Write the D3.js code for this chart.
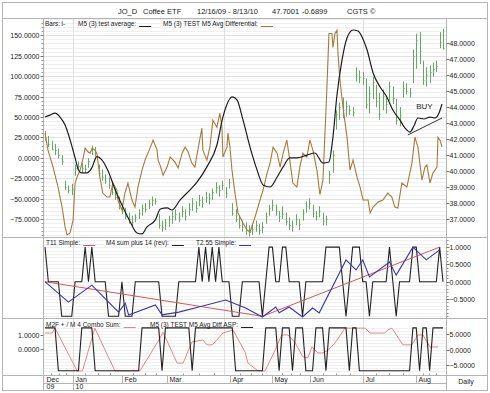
<!DOCTYPE html>
<html>
<head>
<meta charset="utf-8">
<script src="https://cdn.jsdelivr.net/npm/d3@7"></script>
<style>
  body { margin: 0; background: #fff; }
  text { font-family: "Liberation Sans", Arial, sans-serif; fill: #222; }
</style>
</head>
<body>
<svg id="chart" width="490" height="393"></svg>
<script>
// ---- data ----
const months = ['Dec', 'Jan', 'Feb', 'Mar', 'Apr', 'May', 'Jun', 'Jul', 'Aug'];
const monthIdx = [-0.3, 8.4, 23, 36.5, 55.3, 67.9, 79.2, 95.1, 110.9];
const years = [{ label: '09', idx: -0.3 }, { label: '10', idx: 8.4 }];
const quarterIdx = [8.4, 53.5, 95.1];

const leftTicks = [150, 125, 100, 75, 50, 25, 0, -25, -50, -75];
const rightTicks = [48, 47, 46, 45, 44, 43, 42, 41, 40, 39, 38, 37];
const p2Ticks = [1, 0.5, 0, -0.5];
const p3LeftTicks = [1, 0];
const p3RightTicks = [5, 0, -5];

// daily bars (right axis)
const hi = [42.5,42.2,41.9,41.7,41.4,41.0,39.4,39.1,39.2,40.4, 40.6,40.5,40.4,40.8,41.6,41.5,40.4,40.1,39.8,39.6,
  39.3,38.9,38.4,38.0,37.7,37.4,37.2,37.3,37.6,37.9, 38.0,38.2,38.4,38.3,37.3,36.9,37.0,37.2,37.5,37.6,
  37.4,37.8,37.6,38.0,38.3,38.1,38.5,38.4,38.7,38.6, 38.9,39.3,39.1,39.4,39.0,39.5,38.0,37.6,37.2,36.9,
  36.8,36.6,36.7,36.9,36.7,36.8,37.4,37.9,38.2,37.9, 37.5,37.8,37.4,37.1,36.9,37.3,37.0,37.6,38.1,38.3,
  37.9,37.5,37.8,37.4,37.2,40.0,41.3,43.8,44.3,44.6, 44.4,44.1,44.0,46.5,46.3,46.2,45.8,45.3,45.9,45.4,
  44.9,45.1,44.6,45.6,45.3,44.5,44.0,45.6,45.5,45.2, 47.6,48.6,48.7,46.9,46.5,46.6,46.8,46.9,48.7,48.9];
const lo = [41.9,41.5,41.3,41.0,40.8,40.4,38.8,38.6,38.5,39.7, 40.0,39.9,39.9,40.2,41.0,40.9,39.7,39.4,39.2,38.9,
  38.5,38.2,37.6,37.3,37.0,36.7,36.5,36.8,37.0,37.2, 37.4,37.6,37.8,37.9,36.4,36.2,36.3,36.5,36.7,36.9,
  36.8,37.1,36.9,37.2,37.5,37.4,37.8,37.7,38.0,37.9, 38.2,38.6,38.4,38.8,38.3,38.9,37.2,36.8,36.4,36.2,
  36.0,35.9,36.0,36.2,36.0,36.1,36.7,37.2,37.5,37.2, 36.8,37.0,36.6,36.3,36.2,36.6,36.3,36.9,37.4,37.6,
  37.1,36.9,37.1,36.6,36.6,39.2,39.9,42.6,43.2,43.3, 43.4,43.5,43.4,45.6,45.5,45.4,43.9,43.6,44.5,44.0,
  43.2,43.8,43.6,44.4,44.2,42.9,42.8,44.6,44.8,44.6, 45.5,46.4,46.7,45.4,45.3,45.5,45.9,46.2,47.7,47.6];
const cl = [42.1,41.7,41.4,41.3,41.0,40.6,39.0,38.8,38.9,40.2, 40.3,40.2,40.1,40.6,41.4,41.1,39.9,39.6,39.4,39.1,
  38.7,38.4,37.8,37.5,37.2,37.0,36.8,37.1,37.4,37.7, 37.6,38.0,38.2,38.1,36.6,36.5,36.8,37.0,37.2,37.3,
  37.0,37.5,37.2,37.6,38.0,37.7,38.2,38.0,38.4,38.3, 38.7,39.0,38.8,39.1,38.6,39.3,37.4,37.0,36.6,36.5,
  36.3,36.2,36.4,36.6,36.3,36.5,37.2,37.7,37.9,37.5, 37.2,37.3,36.9,36.6,36.5,37.0,36.7,37.4,37.8,38.0,
  37.4,37.2,37.5,36.9,37.0,39.8,41.0,43.6,44.0,43.8, 44.1,43.8,43.7,46.1,45.9,45.8,44.2,44.9,45.6,44.4,
  43.6,44.7,44.2,45.3,44.6,43.2,43.5,45.2,45.0,44.9, 47.2,48.2,47.5,45.7,46.0,46.2,46.4,46.6,48.1,47.7];

// M5 (3) test average (right axis)
const avgIdx = [0,1.5,3,4.5,6,7.5,9,10,11,12.5,14,15.5,17,19,21,23,25.5,27.5,29,30.5,33,34.5,36.5,38,40.4,43.3,45.5,48.4,51.4,53.2,
  56,57.4,59.2,61.3,63.4,65.2,67.3,69.4,71.2,73.2,75.3,78.3,80.7,83.1,84.9,86,87.3,88.8,90.3,92.1,93.6,94.8,96.3,98.1,100.2,102.2,104,106.1,107.6,109.1,
  110.3,111.5,113.3,115.1,116.6,117.8,118.7];
const avgVal = [43.38,43.5,43.63,43.38,42.88,41.95,40.82,40.07,39.88,39.88,40.2,40.9,40.7,39.94,38.81,37.88,36.81,36.12,36.06,36.5,36.94,37.62,37.69,37.56,38.19,38.81,39.32,40.26,41.63,43.38,
  44.64,44.45,43.2,41.5,40.07,39.13,39.0,39.63,40.26,40.82,40.82,41.0,41.13,40.5,40.57,41.95,44.76,46.95,48.33,48.83,48.77,48.39,47.58,46.14,45.26,44.64,43.82,43.2,42.7,42.44,
  42.82,43.32,43.26,43.38,43.32,43.63,44.2];

// M5 (3) TEST M5 Avg Differential (left axis)
const diffIdx = [0,0.9,2.4,3.9,5.1,6.0,6.6,7.5,8.4,9.0,9.6,10.5,11.4,12.0,12.9,13.5,14.1,14.9,15.5,16.4,17.3,18.5,19.4,20.3,21.5,21.8,23.0,23.9,24.8,26.0,
  26.9,27.8,29.0,29.9,30.8,32.0,32.3,33.5,33.8,34.4,35.3,36.5,37.4,38.9,39.8,41.0,41.9,42.8,43.9,44.8,45.7,46.9,47.2,48.4,49.3,50.2,51.4,52.3,52.9,53.2,
  54.4,54.7,55.3,55.9,56.8,57.7,59.2,60.4,61.3,62.8,64.3,65.2,66.4,67.3,68.2,69.4,70.3,71.2,72.3,73.2,74.1,75.3,76.2,77.1,78.3,79.2,80.1,81.3,82.2,83.1,
  84.3,84.9,85.8,86.1,86.7,87.3,87.6,88.2,89.1,90.3,91.2,92.1,93.3,94.2,95.1,96.6,97.2,98.1,99.6,101.0,102.5,103.7,104.6,105.5,106.7,108.2,109.7,110.6,111.5,112.7,
  113.6,114.2,115.1,116.0,117.2,117.5,118.1,118.7];
const diffVal = [30.2,9.4,-11.4,-35.8,-60.3,-84.7,-94.5,-92.1,-76.2,-30.9,-23.6,-15.0,-0.4,11.9,7.0,5.7,11.9,9.4,5.7,-23.6,-43.2,-48.1,-48.1,-30.9,-39.5,-51.7,-63.9,-43.2,-30.9,-51.7,
  -60.3,-35.8,-15.0,-2.8,5.7,18.0,21.6,9.4,-2.8,-8.9,-21.4,-11.4,0.9,-5.3,-12.6,5.7,13.1,7.0,-6.5,-11.4,9.4,36.3,9.4,-2.8,13.1,46.1,37.5,54.6,37.5,0.9,
  13.1,30.2,13.1,-15.0,-43.2,-67.6,-79.9,-88.4,-90.9,-72.5,-51.7,-39.5,-18.7,-6.5,13.1,5.7,-11.4,5.7,21.6,-2.8,-30.9,-35.8,-11.4,5.7,0.9,21.6,9.4,-15.0,-45.0,-27.3,
  86.3,152.3,152.3,135.2,152.3,156.2,128.0,95.0,62.0,25.3,-15.0,-2.8,-23.6,-35.8,-51.7,-51.7,-67.6,-60.3,-54.2,-51.7,-43.2,-48.1,-60.3,-61.5,-30.9,-35.8,-6.5,25.3,13.1,-27.3,
  -11.4,-8.9,-30.9,-18.7,-11.4,25.3,21.6,13.1];

// BUY trendline (right axis)
const buyIdx = [108.5, 118.7];
const buyVal = [42.26, 43.32];

// panel 2
const sig2 = [1,0,0,0,0,-1,-1,-1,-1,0, 0,0,1,0,1,0,0,0,0,-1, -1,-1,-1,0,-1,-1,-1,0,0,0,
  0,0,0,0,0,-1,-1,-1,-1,-1, 0,0,0,0,0,0,1,0,1,0, 1,0,1,0,0,0,-1,-1,-1,0,
  0,0,0,0,0,-1,0,1,1,0, 0,1,1,0,0,0,0,-1,0,0, 0,0,0,0,1,1,1,1,1,0,
  -1,0,1,1,1,0,0,-1,0,0, 0,0,0,1,0,-1,0,0,0,0, 1,1,0,0,0,0,0,0,1,0];
const t11Idx = [0, 65, 118];
const t11Val = [0.0, -1.0, 1.0];
const t255Idx = [0,7,14,22,24,25,33,35,40,46,54,60,65,69,70,73,77,80,82,90,93,95,97,103,105,110,114,118];
const t255Val = [0,-0.59,-0.1,-0.88,-0.62,-0.96,-0.67,-0.96,-0.88,-0.73,-0.53,-0.76,-1.02,-0.73,-0.9,-0.73,-1.02,-0.76,-0.9,0.63,0.34,0.63,0.14,0.57,0.19,1.0,0.63,0.92];

// panel 3
const sig3 = [1.5,1.5,1.5,1.5,-1.5,-1.5,-1.5,-1.5,-1.5,-1.5, -1.5,1.5,1.5,1.5,1.5,-1.5,-1.5,-1.5,-1.5,-1.5,
  -1.5,-1.5,-1.5,-1.5,-1.5,-1.5,-1.5,-1.5,-1.5,1.5, 1.5,1.5,1.5,1.5,1.5,-1.5,1.5,1.5,1.5,1.5,
  1.5,1.5,1.5,1.5,-1.5,1.5,1.5,1.5,1.5,1.5, 1.5,1.5,1.5,1.5,1.5,1.5,1.5,-1.5,-1.5,-1.5,
  -1.5,-1.5,-1.5,-1.5,-1.5,-1.5,1.5,1.5,1.5,1.5, -1.5,1.5,1.5,1.5,-1.5,1.5,1.5,1.5,-1.5,-1.5,
  -1.5,1.5,1.5,1.5,-1.5,1.5,1.5,1.5,1.5,1.5, 1.5,-1.5,1.5,1.5,-1.5,-1.5,-1.5,-1.5,-1.5,-1.5,
  -1.5,-1.5,-1.5,-1.5,-1.5,-1.5,-1.5,-1.5,-1.5,-1.5, 1.5,1.5,-1.5,1.5,1.5,-1.5,1.5,1.5,1.5,1.5];
const comboIdx = [0,2.1,3,9.6,11.2,14.9,20.9,28.4,34.4,35.3,39.5,41.3,43.9,47.2,48.4,50,51.4,53.2,56.2,59.8,
  60.7,63.7,65.8,68.8,70.8,72.6,74.7,77.1,78.6,79.8,81.6,83.1,84.6,86.7,89.7,95.7,97.2,101.6,102.5,103.7,
  105.5,107,109.7,111.5,113,115.1,117.5];
const comboVal = [5.3,5.3,6.9,-6.9,-6.9,6.9,-6.9,-6.9,3.7,5.6,-4.4,-4.4,2.4,3.1,1.5,1.5,3.1,5.3,6.3,-0.8,
  -4.4,-6.9,-6.9,-0.2,4.7,4.7,2.4,-2.4,-2.7,0.8,-1.1,-1.1,-0.2,2.1,6.9,6.9,5.3,5.3,6.3,6.9,
  4.0,1.5,1.5,4.7,4.7,0.8,0.8];

// ---- layout ----
const svg = d3.select('#chart');
const L = 43.5, R = 446.5, F0 = 2.5, F1 = 487.5;
const P1 = [18.5, 237.5], P2 = [237.5, 318.5], P3 = [318.5, 375.5];
const frame = '#b4b4b4';
const barColor = '#62aa62';

const x = d3.scaleLinear().domain([0, 119]).range([45, 443]);
const yL = d3.scaleLinear().domain([-97, 170]).range([237, 19]);
const yR = d3.scaleLinear().domain([35.87, 49.52]).range([237, 19]);
const y2 = d3.scaleLinear().domain([-1, 1]).range([316.3, 247.1]);
const y3L = d3.scaleLinear().domain([-1, 1]).range([363.6, 335]);
const y3R = d3.scaleLinear().domain([-5, 5]).range([365, 334]);

// gridlines
function hgrid(scale, lo, hi, step, top, bot, col) {
  const g = svg.append('g');
  for (let v = lo; v <= hi + 1e-9; v += step) {
    const yy = Math.round(scale(v)) + 0.5;
    if (yy <= top || yy >= bot) continue;
    g.append('line').attr('x1', L).attr('x2', R).attr('y1', yy).attr('y2', yy)
      .attr('stroke', col).attr('stroke-width', 1);
  }
}
hgrid(yL, -95, 170, 5, P1[0], P1[1], '#f0f0f0');
hgrid(yL, -75, 150, 25, P1[0], P1[1], '#e2e2e2');
hgrid(y2, -1.0, 1.2, 0.1, P2[0], P2[1], '#f0f0f0');
hgrid(y3R, -7, 7, 1, P3[0], P3[1], '#f0f0f0');

// quarter gridlines
svg.append('g').selectAll('line').data(quarterIdx).join('line')
  .attr('x1', d => Math.round(x(d)) + 0.5).attr('x2', d => Math.round(x(d)) + 0.5)
  .attr('y1', P1[0]).attr('y2', P3[1])
  .attr('stroke', '#dedede');

// ---- main panel ----
const gBars = svg.append('g').attr('stroke', barColor).attr('stroke-width', 1);
hi.forEach((h, i) => {
  const xx = Math.round(x(i)) + 0.5;
  gBars.append('line').attr('x1', xx).attr('x2', xx).attr('y1', yR(h)).attr('y2', yR(lo[i]));
  gBars.append('line').attr('x1', xx).attr('x2', xx + 1).attr('y1', Math.round(yR(cl[i])) + 0.5).attr('y2', Math.round(yR(cl[i])) + 0.5);
});

const lineR = d3.line().x(d => x(d[0])).y(d => yR(d[1]));
const lineL = d3.line().x(d => x(d[0])).y(d => yL(d[1]));

svg.append('path').datum(diffIdx.map((d, i) => [d, diffVal[i]]))
  .attr('d', lineL).attr('fill', 'none').attr('stroke', '#a77a3a').attr('stroke-width', 1.1);
svg.append('path').datum(avgIdx.map((d, i) => [d, avgVal[i]]))
  .attr('d', lineR.curve(d3.curveMonotoneX)).attr('fill', 'none').attr('stroke', '#1c1c1c').attr('stroke-width', 1.2);
svg.append('path').datum(buyIdx.map((d, i) => [d, buyVal[i]]))
  .attr('d', d3.line().x(d => x(d[0])).y(d => yR(d[1]))).attr('fill', 'none').attr('stroke', '#333').attr('stroke-width', 1);
svg.append('text').attr('x', x(111)).attr('y', yR(43.9)).attr('font-size', 8).attr('fill', '#333').text('BUY');

// ---- panel 2 ----
const step2 = d3.line().x((d, i) => x(i)).y(d => y2(d));
svg.append('path').datum(sig2).attr('d', step2).attr('fill', 'none').attr('stroke', '#222').attr('stroke-width', 1.1);
svg.append('path').datum(t11Idx.map((d, i) => [d, t11Val[i]]))
  .attr('d', d3.line().x(d => x(d[0])).y(d => y2(d[1]))).attr('fill', 'none').attr('stroke', '#d05a5a').attr('stroke-width', 1);
svg.append('path').datum(t255Idx.map((d, i) => [d, t255Val[i]]))
  .attr('d', d3.line().x(d => x(d[0])).y(d => y2(d[1]))).attr('fill', 'none').attr('stroke', '#3737a8').attr('stroke-width', 1.1);

// ---- panel 3 ----
svg.append('path').datum(comboIdx.map((d, i) => [d, comboVal[i]]))
  .attr('d', d3.line().x(d => x(d[0])).y(d => y3R(d[1]))).attr('fill', 'none').attr('stroke', '#e08888').attr('stroke-width', 1);
svg.append('path').datum(sig3).attr('d', d3.line().x((d, i) => x(i)).y(d => y3L(d)))
  .attr('fill', 'none').attr('stroke', '#222').attr('stroke-width', 1.1);

// ---- frame and separators ----
const fr = svg.append('g').attr('stroke', frame).attr('fill', 'none');
fr.append('rect').attr('x', F0).attr('y', F0).attr('width', F1 - F0).attr('height', 388);
[[F0, F1, P1[0]], [F0, F1, P2[0]], [F0, F1, P3[0]], [F0, F1, P3[1]], [L, R, 383.5]].forEach(s => {
  fr.append('line').attr('x1', s[0]).attr('x2', s[1]).attr('y1', s[2]).attr('y2', s[2]);
});
[L, R].forEach(xx => fr.append('line').attr('x1', xx).attr('x2', xx).attr('y1', P1[0]).attr('y2', 390.5));

// ---- axes ----
function leftAxis(scale, ticks, minor) {
  const g = svg.append('g');
  if (minor) {
    for (let v = minor[0]; v <= minor[1]; v += minor[2]) {
      const yy = Math.round(scale(v)) + 0.5;
      g.append('line').attr('x1', L - 2).attr('x2', L).attr('y1', yy).attr('y2', yy).attr('stroke', '#999');
    }
  }
  ticks.forEach(t => {
    const yy = Math.round(scale(t)) + 0.5;
    g.append('line').attr('x1', L - 3).attr('x2', L).attr('y1', yy).attr('y2', yy).attr('stroke', '#777');
    g.append('text').attr('x', L - 4).attr('y', yy + 2.5).attr('text-anchor', 'end')
      .attr('font-size', 7).text(d3.format('.4f')(t));
  });
}
function rightAxis(scale, ticks, minor) {
  const g = svg.append('g');
  if (minor) {
    for (let v = minor[0]; v <= minor[1]; v += minor[2]) {
      const yy = Math.round(scale(v)) + 0.5;
      g.append('line').attr('x1', R).attr('x2', R + 2).attr('y1', yy).attr('y2', yy).attr('stroke', '#999');
    }
  }
  ticks.forEach(t => {
    const yy = Math.round(scale(t)) + 0.5;
    g.append('line').attr('x1', R).attr('x2', R + 3).attr('y1', yy).attr('y2', yy).attr('stroke', '#777');
    g.append('text').attr('x', R + 3).attr('y', yy + 2.5)
      .attr('font-size', 7).text(d3.format('.4f')(t));
  });
}
leftAxis(yL, leftTicks, [-95, 165, 5]);
rightAxis(yR, rightTicks);
rightAxis(y2, p2Ticks, [-1, 1.2, 0.1]);
leftAxis(y3L, p3LeftTicks);
rightAxis(y3R, p3RightTicks);

// ---- bottom date axis ----
const gx = svg.append('g');
monthIdx.forEach((m, i) => {
  const xx = Math.round(x(m)) + 0.5;
  if (i > 0) gx.append('line').attr('x1', xx).attr('x2', xx).attr('y1', P3[1])
    .attr('y2', i === 1 ? 390.5 : 383.5).attr('stroke', frame);
  gx.append('text').attr('x', xx + 2).attr('y', 381.5).attr('font-size', 7).text(months[i]);
  // weekly ticks within the month
  const end = i < monthIdx.length - 1 ? monthIdx[i + 1] : 119;
  for (let k = 1; k < 4; k++) {
    const tx = Math.round(x(m + (end - m) * k / 4)) + 0.5;
    if (tx < R - 3) gx.append('line').attr('x1', tx).attr('x2', tx).attr('y1', P3[1] - 2).attr('y2', P3[1]).attr('stroke', '#999');
  }
});
years.forEach(y => {
  gx.append('text').attr('x', Math.round(x(y.idx)) + 2.5).attr('y', 389).attr('font-size', 7).text(y.label);
});
svg.append('text').attr('x', 466).attr('y', 384).attr('text-anchor', 'middle').attr('font-size', 7).text('Daily');

// ---- title ----
const title = [['JO_D', 118], ['Coffee ETF', 143], ['12/16/09 - 8/13/10', 197], ['47.7001', 272], ['-0.6899', 302], ['CGTS \u00a9', 347]];
title.forEach(t => svg.append('text').attr('x', t[1]).attr('y', 14).attr('font-size', 7.5).text(t[0]));

// ---- legends ----
function legend(y, items) {
  items.forEach(it => {
    const t = svg.append('text').attr('x', it.x).attr('y', y).attr('font-size', 6.5).text(it.label);
    const w = t.node().getComputedTextLength();
    if (it.mark) {
      svg.append('text').attr('x', it.x + w + 1).attr('y', y).attr('font-size', 6.5).attr('fill', it.color).text(it.mark);
    } else {
      svg.append('line').attr('x1', it.x + w + 3).attr('x2', it.x + w + 15).attr('y1', y + 0.5).attr('y2', y + 0.5)
        .attr('stroke', it.color).attr('stroke-width', 1);
    }
  });
}
legend(26, [
  { x: 45, label: 'Bars:', mark: 'I-', color: barColor },
  { x: 78, label: 'M5 (3) test average:', color: '#1c1c1c' },
  { x: 163, label: 'M5 (3) TEST M5 Avg Differential:', color: '#a77a3a' }
]);
legend(245, [
  { x: 46, label: 'T11 Simple:', color: '#d05a5a' },
  { x: 106, label: 'M4 sum plus 14 (rev):', color: '#222' },
  { x: 196, label: 'T2.55 Simple:', color: '#3737a8' }
]);
legend(327, [
  { x: 46, label: 'M2F + / M 4 Combo Sum:', color: '#e08888' },
  { x: 150, label: 'M5 (3) TEST M5 Avg Diff ASP:', color: '#222' }
]);
</script>
</body>
</html>
